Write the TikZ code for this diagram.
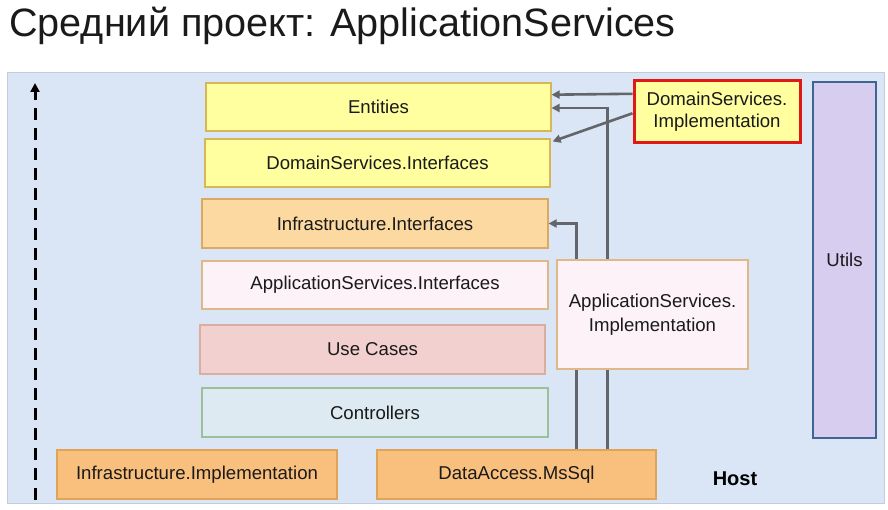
\documentclass[tikz,border=0pt]{standalone}
\usepackage{fontspec}
\setmainfont{Liberation Sans}
\usetikzlibrary{arrows.meta,calc}

\definecolor{panelfill}{HTML}{DAE6F6}
\definecolor{panelline}{HTML}{C3CDD9}
\definecolor{yellowfill}{HTML}{FFFFA0}
\definecolor{yellowline}{HTML}{D6B656}
\definecolor{peachfill}{HTML}{FCD9A0}
\definecolor{peachline}{HTML}{D9AA62}
\definecolor{palepink}{HTML}{FDF2F7}
\definecolor{tanline}{HTML}{DDB98A}
\definecolor{rosefill}{HTML}{F3D0D0}
\definecolor{roseline}{HTML}{D9AE9E}
\definecolor{mintfill}{HTML}{DDEAF2}
\definecolor{mintline}{HTML}{9CC09A}
\definecolor{orangefill}{HTML}{F8C07C}
\definecolor{orangeline}{HTML}{E0A458}
\definecolor{lavfill}{HTML}{D6CDEF}
\definecolor{lavline}{HTML}{3E6690}
\definecolor{redline}{HTML}{E01818}
\definecolor{arrowgray}{HTML}{626569}
\definecolor{textdark}{HTML}{1A1A1A}

\tikzset{
  layer/.style={draw, line width=1.2pt, text=textdark, inner sep=0pt,
    font=\fontsize{18.6}{22}\selectfont, align=center},
  dep/.style={draw=arrowgray, line width=2.6pt,
    -{Triangle[length=8pt,width=8pt]}},
}

\begin{document}
\begin{tikzpicture}[x=1pt,y=-1pt]
  \useasboundingbox (0,0) rectangle (888,510);

  % heading
  \node[anchor=base west, inner sep=0pt, text=textdark,
        font=\fontsize{39.6}{44}\selectfont] (title) at (9,37)
        {Средний проект: ApplicationServices};

  % host panel
  \node[draw=panelline, fill=panelfill, line width=1pt, minimum width=877pt,
        minimum height=430pt, inner sep=0pt] (panel) at (445.5,288) {};

  % dependency direction
  \coordinate (dlow) at (35,500);
  \coordinate (dtop) at (35,83);
  \draw[black, line width=3pt, dash pattern=on 12pt off 8pt,
        -{Triangle[length=9pt,width=9pt]}] (dlow) -- (dtop);

  % layers
  \node[layer, fill=yellowfill, draw=yellowline, minimum width=345pt, minimum height=48pt]
    (ent) at (378.5,107) {Entities};
  \node[layer, fill=yellowfill, draw=yellowline, minimum width=345pt, minimum height=48pt]
    (dsi) at (377.5,163) {DomainServices.Interfaces};
  \node[layer, fill=peachfill, draw=peachline, minimum width=346pt, minimum height=49pt]
    (infi) at (375,223.5) {Infrastructure.Interfaces};
  \node[layer, fill=palepink, draw=tanline, minimum width=346pt, minimum height=48pt]
    (asi) at (375,285) {ApplicationServices.Interfaces};
  \node[layer, fill=rosefill, draw=roseline, minimum width=345pt, minimum height=49pt]
    (uc) at (372.5,349.5) {Use Cases};
  \node[layer, fill=mintfill, draw=mintline, minimum width=346pt, minimum height=49pt]
    (ctl) at (375,412.5) {Controllers};
  \node[layer, fill=orangefill, draw=orangeline, minimum width=280pt, minimum height=49pt]
    (infimpl) at (197,474.5) {Infrastructure.Implementation};
  \node[layer, fill=orangefill, draw=orangeline, minimum width=279pt, minimum height=49pt]
    (dam) at (516.5,474.5) {DataAccess.MsSql};
  \node[layer, fill=yellowfill, draw=redline, line width=3pt, minimum width=166pt,
        minimum height=62pt, font=\fontsize{18.6}{22}\selectfont] (dsimpl) at (717,112)
    {DomainServices.\\Implementation};
  \node[layer, fill=lavfill, draw=lavline, line width=2.5pt, minimum width=63pt,
        minimum height=356pt] (utils) at (844.5,260) {Utils};
  \node[text=black, font=\bfseries\fontsize{20}{24}\selectfont, inner sep=0pt]
    (host) at (735,479) {Host};

  % dependencies
  \draw[dep] ($(dsimpl.north west)!0.22!(dsimpl.south west)$)
    -- ($(ent.north east)!0.25!(ent.south east)$);
  \draw[dep] ($(dsimpl.north west)!0.52!(dsimpl.south west)$)
    -- ($(dsi.north east)+(2,3)$);
  \draw[dep] ($(dam.north west)+(231,0)$) |- ($(ent.east)+(0,1)$);
  \draw[dep] ($(dam.north west)+(200,0)$) |- (infi.east);

  % drawn last so it sits over the vertical lines
  \node[layer, fill=palepink, draw=tanline, minimum width=191pt, minimum height=109pt,
        font=\fontsize{18.6}{24}\selectfont] (asimpl) at (652.5,314.5)
    {ApplicationServices.\\Implementation};
\end{tikzpicture}
\end{document}
